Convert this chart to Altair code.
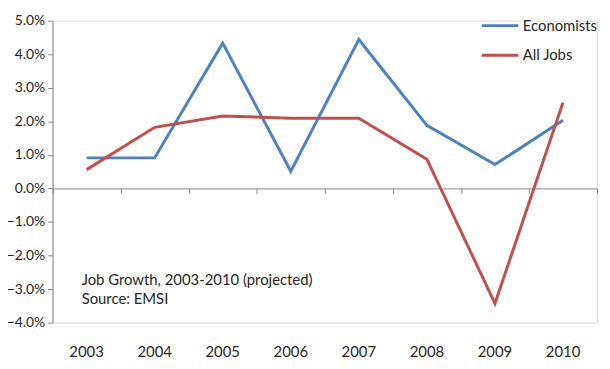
import altair as alt
import pandas as pd

years = ["2003", "2004", "2005", "2006", "2007", "2008", "2009", "2010"]
economists = [0.0091, 0.0091, 0.0433, 0.0051, 0.0444, 0.0188, 0.0071, 0.0203]
all_jobs = [0.0056, 0.0182, 0.0216, 0.0209, 0.0209, 0.0087, -0.0343, 0.0256]
series_names = ["Economists", "All Jobs"]
series_colors = ["#4F81BD", "#C0504D"]
note_lines = ["Job Growth, 2003-2010 (projected)", "Source: EMSI"]
note_values = [-0.0272, -0.0330]
y_ticks = [-0.04, -0.03, -0.02, -0.01, 0.0, 0.01, 0.02, 0.03, 0.04, 0.05]

rows = []
for name, vals in zip(series_names, [economists, all_jobs]):
    for yr, v in zip(years, vals):
        rows.append({"year": yr, "value": v, "series": name})
df = pd.DataFrame(rows)
notes = pd.DataFrame({"year": [years[0]] * 2, "value": note_values, "text": note_lines})

W, H = 550, 305
ymin, ymax = -0.04, 0.05
FONT = "Lato"
TXT = "#262626"
AX = "#868686"

xscale = alt.Scale(type="band", domain=years, paddingInner=0, paddingOuter=0)
yscale = alt.Scale(domain=[ymin, ymax], nice=False)

bottom_axis = alt.Axis(title=None, domain=False, ticks=False, labelPadding=22,
                       labelFontSize=15, labelFont=FONT, labelColor=TXT, grid=False,
                       labelAngle=0, orient="bottom")
zero_axis = alt.Axis(title=None, labels=False, domain=True, ticks=True, tickBand="extent",
                     domainColor=AX, tickColor=AX, tickSize=5, grid=False, orient="bottom",
                     offset=-H * (0 - ymin) / (ymax - ymin))
y_axis = alt.Axis(title=None, format=".1%", values=y_ticks, grid=False, domainColor=AX,
                  tickColor=AX, tickSize=5, labelFontSize=14, labelFont=FONT,
                  labelColor=TXT, labelPadding=3)

lines = alt.Chart(df).mark_line(strokeWidth=3).encode(
    x=alt.X("year:N", scale=xscale, axis=bottom_axis, bandPosition=0.5),
    y=alt.Y("value:Q", scale=yscale, axis=y_axis),
    color=alt.Color("series:N", scale=alt.Scale(domain=series_names, range=series_colors),
                    legend=alt.Legend(title=None, orient="none", legendX=432, legendY=-15,
                                      symbolType="stroke", symbolSize=1369,
                                      symbolStrokeWidth=3, labelFontSize=15,
                                      labelFont=FONT, labelColor=TXT, rowPadding=2,
                                      labelOffset=3)),
)

zero = alt.Chart(df).mark_point(opacity=0).encode(
    x=alt.X("year:N", scale=xscale, axis=zero_axis),
    y=alt.Y("value:Q", scale=yscale, axis=y_axis),
)

text = alt.Chart(notes).mark_text(align="left", baseline="middle", fontSize=15,
                                  font=FONT, color=TXT, dx=-5).encode(
    x=alt.X("year:N", scale=xscale, bandPosition=0.5, axis=None),
    y=alt.Y("value:Q", scale=yscale, axis=y_axis),
    text="text:N",
)

chart = alt.layer(lines, zero, text).resolve_axis(x="independent").properties(
    width=W, height=H,
    autosize=alt.AutoSizeParams(type="none"),
    padding={"left": 45, "top": 11, "right": 5, "bottom": 40},
).configure_view(stroke=None).configure(background="white")

chart.save("out.html", embed_options={"renderer": "svg", "actions": False})
